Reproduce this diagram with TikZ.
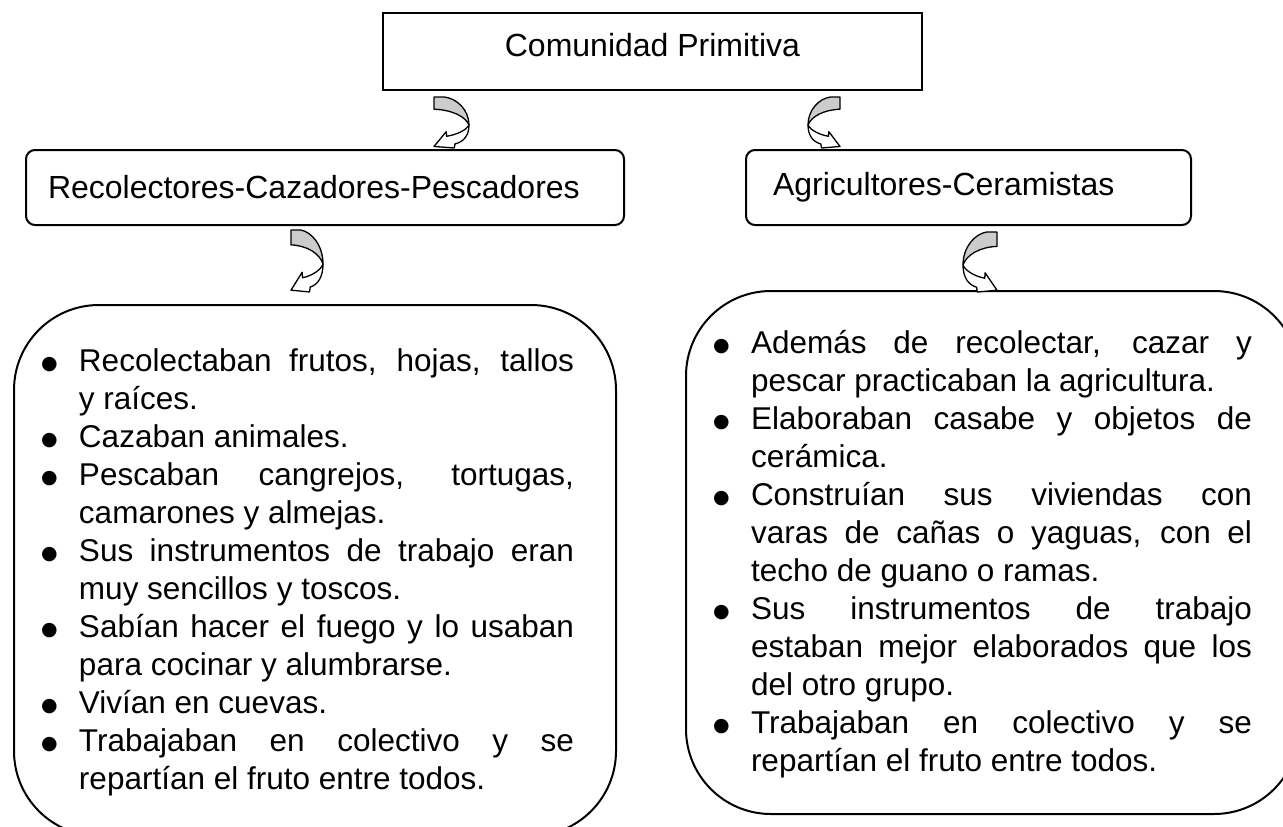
\documentclass[tikz,border=0pt]{standalone}
\usepackage{fontspec}
\setmainfont{Liberation Sans}
\newfontfamily\dotfont{DejaVu Sans}
\usetikzlibrary{calc}

\newlength{\bulind}
\setlength{\bulind}{38pt}
\newcommand{\bulmark}{\raisebox{2pt}{\dotfont\fontsize{19}{19}\selectfont ●}}
\newcommand{\bitem}{\par\noindent\hangindent=\bulind\hangafter=1\makebox[\bulind][l]{\bulmark}\strut}
\newcommand{\listfont}{\fontsize{31.5}{38}\selectfont\hyphenpenalty=10000\exhyphenpenalty=10000\tolerance=10000\hbadness=10000}

\tikzset{
  curvarrow/.pic={
    % back face of the band
    \filldraw[fill=black!20, line width=1.3pt, line join=round]
      (0,0) -- (0.3,0) .. controls (0.65,0.03) and (1,0.25) .. (1,0.55)
      .. controls (0.9,0.38) and (0.5,0.25) .. (0,0.24) -- cycle;
    % front face with the head
    \filldraw[fill=white, line width=1.3pt, line join=round]
      (1,0.55) .. controls (1,0.75) and (0.85,0.88) .. (0.6,0.92)
      -- (0.58,1) -- (0,0.97) -- (0.35,0.68) -- (0.36,0.77)
      .. controls (0.65,0.74) and (0.9,0.65) .. (0.97,0.58) -- cycle;
  }
}

\begin{document}
\begin{tikzpicture}[
    x=1pt, y=-1pt,
    topbox/.style={rectangle, draw=black, line width=2pt, minimum width=539pt, minimum height=77pt, text height=23.4pt, text depth=13pt, font=\fontsize{32}{38}\selectfont},
    groupbox/.style={rectangle, draw=black, line width=2pt, rounded corners=9pt, minimum height=75pt, align=left, anchor=north west, font=\fontsize{32}{38}\selectfont},
    listbox/.style={rectangle, draw=black, line width=2pt, rounded corners=85pt, inner sep=0pt, anchor=north west}
]
\useasboundingbox (0,0) rectangle (1283,827);

\node[topbox] (comunidad) at (652.5,51.5) {Comunidad Primitiva};
\node[groupbox, inner xsep=22pt, text width=554pt] (recol) at (25,149) {Recolectores-Cazadores-Pescadores};
\node[groupbox, inner xsep=27pt, text width=391pt] (agri) at (745,149) {Agricultores-Ceramistas};

\node[listbox, minimum width=602pt, minimum height=531pt] (reclist) at (13,304) {\begin{minipage}{533pt}\listfont
\bitem Recolectaban frutos, hojas, tallos\linebreak y raíces.
\bitem Cazaban animales.
\bitem Pescaban cangrejos, tortugas,\linebreak camarones y almejas.
\bitem Sus instrumentos de trabajo eran\linebreak muy sencillos y toscos.
\bitem Sabían hacer el fuego y lo usaban\linebreak para cocinar y alumbrarse.
\bitem Vivían en cuevas.
\bitem Trabajaban en colectivo y se\linebreak repartían el fruto entre todos.
\end{minipage}\kern15pt};

\node[listbox, minimum width=613pt, minimum height=523pt] (agrilist) at (685,290) {\begin{minipage}{539pt}\listfont
\bitem Además de recolectar, cazar y\linebreak pescar practicaban la agricultura.
\bitem Elaboraban casabe y objetos de\linebreak cerámica.
\bitem Construían sus viviendas con\linebreak varas de cañas o yaguas, con el\linebreak techo de guano o ramas.
\bitem Sus instrumentos de trabajo\linebreak estaban mejor elaborados que los\linebreak del otro grupo.
\bitem Trabajaban en colectivo y se\linebreak repartían el fruto entre todos.
\end{minipage}\kern20pt};

% curved arrows between the boxes
\pic[xscale=35, yscale=51] at ($(comunidad.south west)+(52,6)$) {curvarrow};
\pic[xscale=-32, yscale=51] at ($(comunidad.south east)+(-83,6)$) {curvarrow};
\pic[xscale=32, yscale=62] at ($(recol.south west)+(266,4)$) {curvarrow};
\pic[xscale=-34, yscale=60] at ($(agri.south west)+(252,6)$) {curvarrow};
\end{tikzpicture}
\end{document}
